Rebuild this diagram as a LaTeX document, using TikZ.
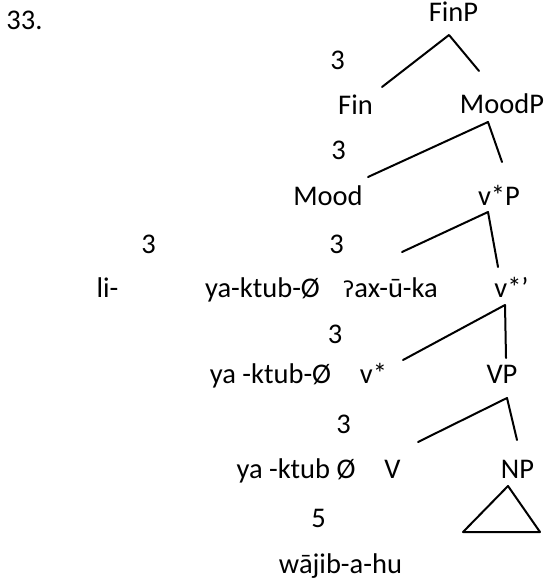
\documentclass[tikz,border=0pt]{standalone}
\usepackage{fontspec}
\setmainfont{Carlito}
\newfontfamily\ipafont{DejaVu Sans}
\tikzset{%
cat/.style={anchor=base,inner sep=0pt,font=\fontsize{28.5pt}{34pt}\selectfont},
num/.style={cat},
branch/.style={line width=2pt,line cap=round,line join=round}
}

\begin{document}
\begin{tikzpicture}[x=1pt,y=-1pt]
    \useasboundingbox (0,0) rectangle (545,585);

    \node[cat] (ex) at (24.5,30) {33.};

    % categories and words
    \node[cat] (finp)  at (453.5,22)  {FinP};
    \node[cat] (fin)   at (355.5,115) {Fin};
    \node[cat] (moodp) at (502,114)   {MoodP};
    \node[cat] (mood)  at (328,205)   {Mood};
    \node[cat] (vsp)   at (499,205)   {v*P};
    \node[cat] (li)    at (107.5,297) {li-};
    \node[cat] (yak1)  at (262.5,297) {ya-ktub-Ø};
    \node[cat] (axuka) at (390.5,297) {{\ipafont\fontsize{22pt}{30pt}\selectfont ʔ}ax-ū-ka};
    \node[cat] (vsbar) at (511.5,297) {v*’};
    \node[cat] (yak2)  at (270.5,383) {ya -ktub-Ø};
    \node[cat] (vs)    at (373.5,383) {v*};
    \node[cat] (vp)    at (502,383)   {VP};
    \node[cat] (yak3)  at (296,478)   {ya -ktub Ø};
    \node[cat] (v)     at (392.5,478) {V};
    \node[cat] (np)    at (517.5,478) {NP};
    \node[cat] (wajib) at (340.5,573) {wājib-a-hu};

    % the 3s and the 5
    \node[num] (n1) at (337.5,70)  {3};
    \node[num] (n2) at (338.5,160) {3};
    \node[num] (n3) at (148.5,253) {3};
    \node[num] (n4) at (336.5,253) {3};
    \node[num] (n5) at (335,343)   {3};
    \node[num] (n6) at (343.5,433) {3};
    \node[num] (n7) at (318.5,527) {5};

    % branch points
    \coordinate (finp-t)  at (449,35);
    \coordinate (finp-l)  at (382,87);
    \coordinate (finp-r)  at (479,71);
    \coordinate (moodp-t) at (488,122);
    \coordinate (moodp-l) at (368,177);
    \coordinate (moodp-r) at (502,162);
    \coordinate (vsp-t)   at (488,212);
    \coordinate (vsp-l)   at (402,252);
    \coordinate (vsp-r)   at (498,267);
    \coordinate (vsbar-t) at (505,305);
    \coordinate (vsbar-l) at (403,360);
    \coordinate (vsbar-r) at (506,358);
    \coordinate (vp-t)    at (507,398);
    \coordinate (vp-l)    at (418,442);
    \coordinate (vp-r)    at (517,440);
    \coordinate (np-t)    at (508,486);
    \coordinate (np-l)    at (463,532);
    \coordinate (np-r)    at (540,532);

    \draw[branch] (finp-l) -- (finp-t) -- (finp-r);
    \draw[branch] (moodp-l) -- (moodp-t) -- (moodp-r);
    \draw[branch] (vsp-l) -- (vsp-t) -- (vsp-r);
    \draw[branch] (vsbar-l) -- (vsbar-t) -- (vsbar-r);
    \draw[branch] (vp-l) -- (vp-t) -- (vp-r);
    \draw[branch] (np-t) -- (np-l) -- (np-r) -- cycle;

  \end{tikzpicture}
\end{document}
